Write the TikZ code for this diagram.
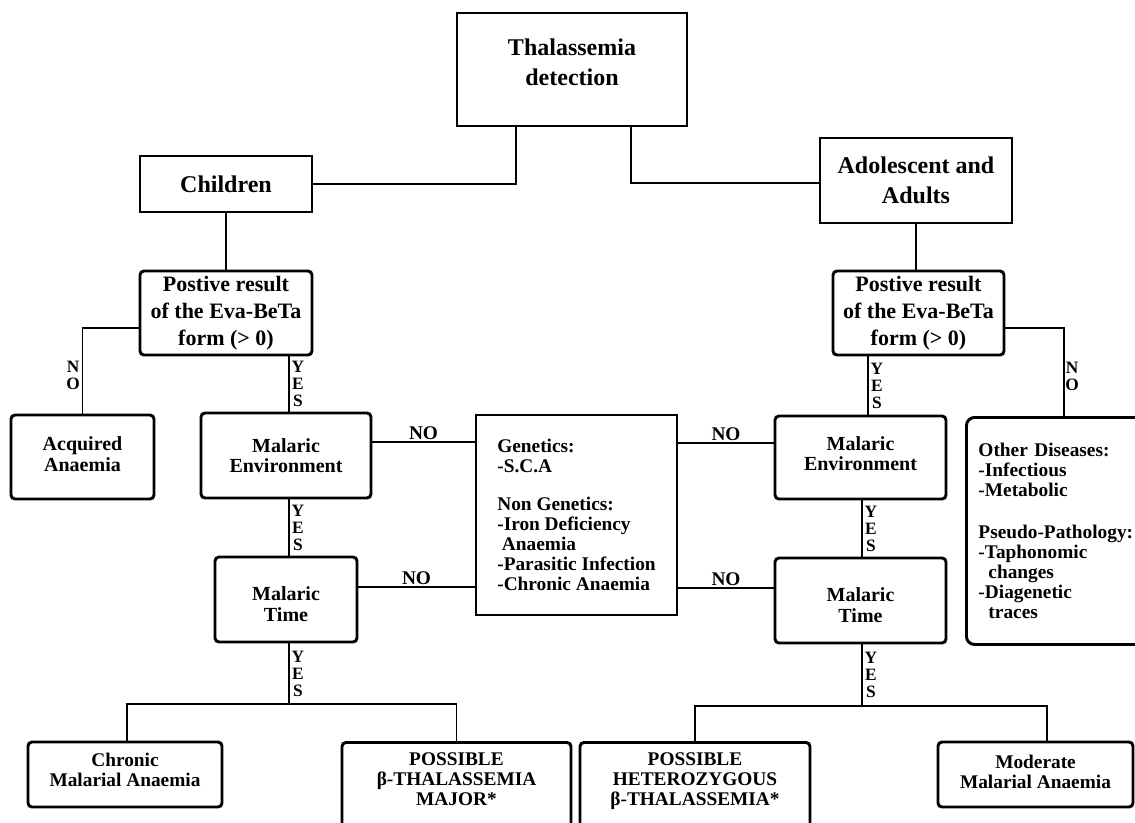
\documentclass[tikz,border=0pt]{standalone}
\usepackage{fontspec}
\setmainfont{Liberation Serif}
\tikzset{
  conn/.style={line width=1pt},
  boxsq/.style={draw, line width=2.2pt, inner sep=0pt, align=center},
  boxrd/.style={boxsq, rounded corners=3pt},
  fA/.style={font=\fontsize{18}{22.5}\selectfont\bfseries},
  fB/.style={font=\fontsize{16.5}{20.25}\selectfont\bfseries},
  fC/.style={font=\fontsize{15}{15.5}\selectfont\bfseries},
  fD/.style={font=\fontsize{14.5}{15}\selectfont\bfseries},
  hlab/.style={font=\fontsize{14.5}{15}\selectfont\bfseries, inner sep=1pt, above},
  vlab/.style={font=\fontsize{13}{12.75}\selectfont\bfseries, inner sep=1.5pt, align=center}
}
\begin{document}
\begin{tikzpicture}[x=0.75pt,y=-0.75pt]
\useasboundingbox (0,0) rectangle (1135,822);
\fill[white] (0,0) rectangle (1135,822);
\clip (0,0) rectangle (1135,822);

\node[boxsq,fA,minimum width=172.5pt,minimum height=84.75pt] (title) at (572,69.5) {Thalassemia\\detection\rule[-10.5pt]{0pt}{10.5pt}};
\node[boxsq,fA,minimum width=129pt,minimum height=42pt] (children) at (226,184) {Children};
\node[boxsq,fA,minimum width=144pt,minimum height=63.75pt] (adol) at (916,180.5) {Adolescent and\\Adults};
\node[boxrd,fB,minimum width=129pt,minimum height=63pt] (posL) at (226,313) {Postive result\\of the Eva-BeTa\\form (> 0)};
\node[boxrd,fB,minimum width=128.25pt,minimum height=63pt] (posR) at (918.5,313) {Postive result\\of the Eva-BeTa\\form (> 0)};
\node[boxrd,fC,minimum width=107.25pt,minimum height=63pt] (acq) at (82.5,457) {Acquired\\Anaemia\rule[-4pt]{0pt}{4pt}};
\node[boxrd,fC,minimum width=127.5pt,minimum height=63.75pt] (envL) at (286,455.5) {Malaric\\Environment};
\node[boxrd,fC,minimum width=106.5pt,minimum height=63.75pt] (timeL) at (286,599.5) {\rule{0pt}{17pt}Malaric\\Time};
\node[boxsq,fD,align=left,minimum width=150.75pt,minimum height=150pt] (gen) at (576.5,515) {Genetics:\\-S.C.A\\[14pt]Non Genetics:\\-Iron Deficiency\\\hspace*{3.5pt}Anaemia\\-Parasitic Infection\\-Chronic Anaemia};
\node[boxrd,fC,minimum width=128.25pt,minimum height=62.25pt] (envR) at (860.5,457.5) {Malaric\\Environment\rule[-6pt]{0pt}{6pt}};
\node[boxrd,fC,minimum width=128.25pt,minimum height=63.75pt] (timeR) at (860.5,600.5) {\rule{0pt}{17pt}Malaric\\Time};
\node[boxrd,fD,rounded corners=6pt,align=left,anchor=north west,text width=128.25pt,inner xsep=9pt,minimum height=170.25pt] (other) at (965,416) {Other Diseases:\\-Infectious\\-Metabolic\\[16pt]Pseudo-Pathology:\\-Taphonomic\\\hspace*{7.5pt}changes\\-Diagenetic\\\hspace*{7.5pt}traces};
\node[boxrd,fD,minimum width=145.5pt,minimum height=48.75pt] (chronic) at (125,774.5) {Chronic\\Malarial Anaemia\rule[-7.5pt]{0pt}{7.5pt}};
\node[boxrd,fD,anchor=north,minimum width=171.75pt,inner ysep=7.5pt] (major) at (456.5,741) {POSSIBLE\\β-THALASSEMIA\\MAJOR*\rule[-60pt]{0pt}{60pt}};
\node[boxrd,fD,anchor=north,minimum width=172.5pt,inner ysep=7.5pt] (hetero) at (695,741) {POSSIBLE\\HETEROZYGOUS\\β-THALASSEMIA*\rule[-60pt]{0pt}{60pt}};
\node[boxrd,fD,minimum width=146.25pt,minimum height=48.75pt] (moderate) at (1035.5,774.5) {Moderate\\Malarial Anaemia\rule[-3.75pt]{0pt}{3.75pt}};

% connectors
\draw[conn] ([xshift=-42pt]title.south) |- (children.east);
\draw[conn] ([xshift=44.25pt]title.south) |- ([yshift=-1.875pt]adol.west);
\draw[conn] (children.south) -- (posL.north);
\draw[conn] (adol.south) -- (adol.south |- posR.north);
\draw[conn] ([yshift=-11.25pt]posL.west) -| node[vlab,pos=0.776,anchor=east]{N\\O} (acq.north);
\coordinate (c1) at ([xshift=2.25pt]envL.north);
\draw[conn] (c1 |- posL.south) -- node[vlab,anchor=west]{Y\\E\\S} (c1);
\coordinate (c2) at ([xshift=2.25pt]timeL.north);
\draw[conn] (c2 |- envL.south) -- node[vlab,anchor=west]{Y\\E\\S} (c2);
\coordinate (jL) at (289,704);
\draw[conn] (jL |- timeL.south) -- node[vlab,anchor=west]{Y\\E\\S} (jL);
\draw[conn] ([xshift=1.5pt]chronic.north) |- (jL) -| (major.north);
\coordinate (c3) at ([yshift=10.125pt]envL.east);
\draw[conn] (c3) -- node[hlab]{NO} (c3 -| gen.west);
\coordinate (c4) at ([yshift=9.375pt]timeL.east);
\draw[conn] (c4) -- node[hlab]{NO} (c4 -| gen.west);
\coordinate (c5) at ([yshift=10.875pt]envR.west);
\draw[conn] (c5 -| gen.east) -- node[hlab]{NO} (c5);
\coordinate (c6) at ([yshift=9.375pt]timeR.west);
\draw[conn] (c6 -| gen.east) -- node[hlab]{NO} (c6);
\coordinate (c7) at ([xshift=5.625pt]envR.north);
\draw[conn] (c7 |- posR.south) -- node[vlab,anchor=west]{Y\\E\\S} (c7);
\coordinate (c8) at ([xshift=1.125pt]timeR.north);
\draw[conn] (c8 |- envR.south) -- node[vlab,anchor=west]{Y\\E\\S} (c8);
\coordinate (jR) at (862,706);
\draw[conn] (jR |- timeR.south) -- node[vlab,anchor=west]{Y\\E\\S} (jR);
\draw[conn] (hetero.north) |- (jR) -| ([xshift=8.625pt]moderate.north);
\draw[conn] ([yshift=-11.25pt]posR.east) -| node[vlab,pos=0.773,anchor=west,inner sep=0.5pt]{N\\O} (other.north);
\end{tikzpicture}
\end{document}
